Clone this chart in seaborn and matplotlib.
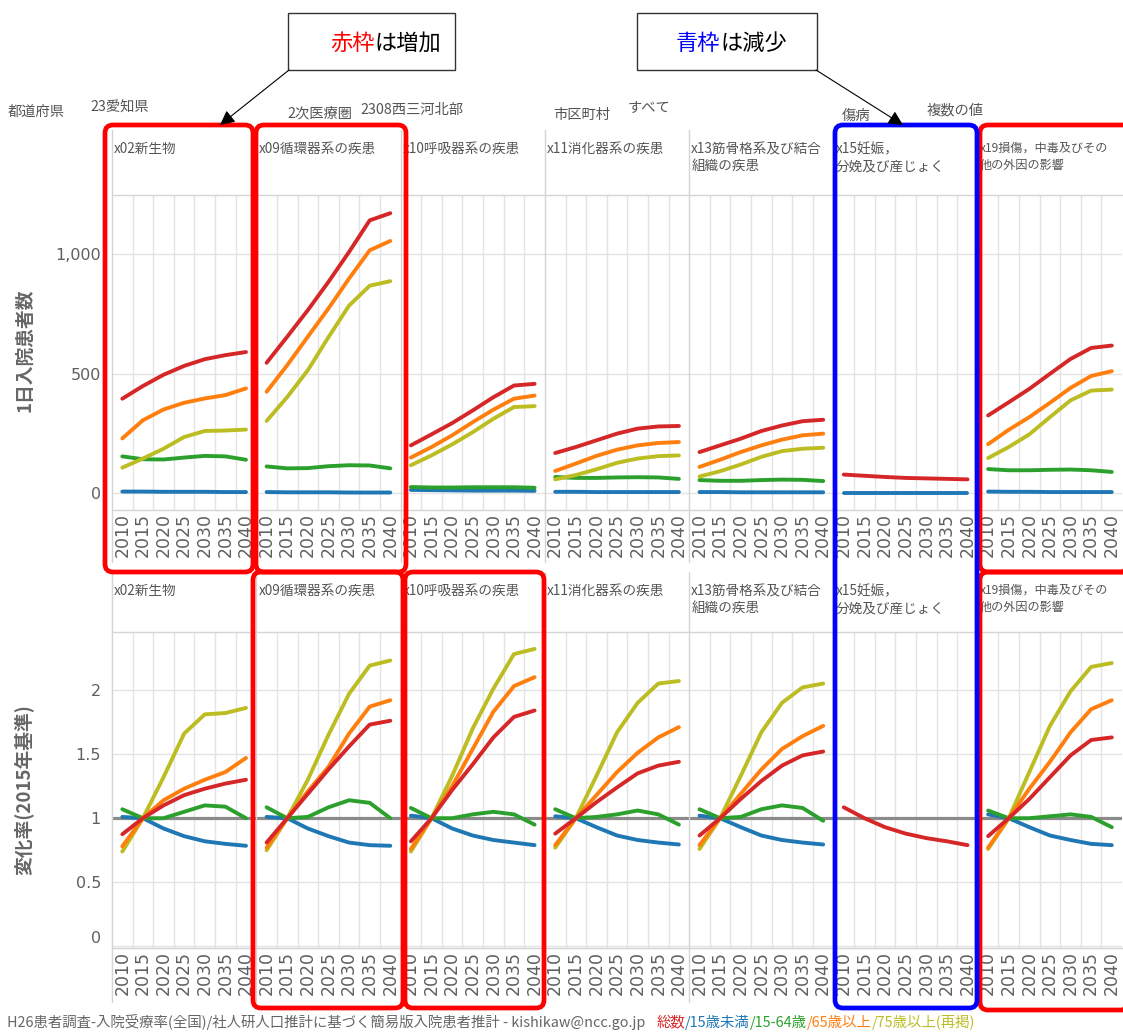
import numpy as np
import pandas as pd
import matplotlib
matplotlib.use("Agg")
import matplotlib.pyplot as plt
import seaborn as sns
from matplotlib.patches import FancyBboxPatch, Rectangle
from matplotlib.lines import Line2D

sns.set_theme(style="white")
plt.rcParams["font.family"] = ["Noto Sans CJK JP", "DejaVu Sans"]

# ---------------------------------------------------------------- data
years = [2010, 2015, 2020, 2025, 2030, 2035, 2040]
groups = ["総数", "15歳未満", "15-64歳", "65歳以上", "75歳以上(再掲)"]
group_colors = ["#d62728", "#1f77b4", "#2ca02c", "#ff7f0e", "#bcbd22"]
draw_order = ["15歳未満", "15-64歳", "75歳以上(再掲)", "65歳以上", "総数"]

disease_titles = [
    "x02新生物",
    "x09循環器系の疾患",
    "x10呼吸器系の疾患",
    "x11消化器系の疾患",
    "x13筋骨格系及び結合\n組織の疾患",
    "x15妊娠，\n分娩及び産じょく",
    "x19損傷，中毒及びその\n他の外因の影響",
]

nan = np.nan
# daily inpatients, rows in the order of `groups`
count_x02 = [[395, 448, 495, 532, 560, 577, 590],
             [7, 7, 6, 6, 6, 5, 5],
             [154, 142, 141, 149, 156, 154, 140],
             [229, 305, 350, 378, 396, 410, 438],
             [107, 145, 186, 235, 260, 262, 266]]
count_x09 = [[545, 654, 765, 883, 1008, 1140, 1170],
             [5, 4, 4, 4, 3, 3, 3],
             [112, 104, 105, 113, 117, 116, 104],
             [424, 535, 654, 772, 897, 1015, 1054],
             [302, 402, 514, 652, 784, 867, 886]]
count_x10 = [[200, 246, 293, 346, 401, 450, 457],
             [14, 13, 12, 11, 11, 11, 10],
             [26, 24, 24, 25, 25, 25, 23],
             [149, 193, 242, 297, 349, 395, 408],
             [117, 158, 204, 255, 311, 360, 364]]
count_x11 = [[168, 193, 221, 249, 270, 279, 281],
             [6, 6, 5, 5, 5, 5, 5],
             [68, 64, 64, 66, 67, 66, 60],
             [93, 124, 156, 182, 200, 210, 214],
             [58, 76, 100, 127, 145, 155, 158]]
count_x13 = [[172, 200, 228, 260, 283, 301, 307],
             [5, 5, 4, 4, 4, 4, 4],
             [55, 52, 52, 55, 57, 56, 51],
             [110, 140, 172, 200, 224, 242, 249],
             [70, 92, 120, 152, 176, 186, 190]]
count_x15 = [[78, 73, 68, 64, 62, 60, 58],
             [0, 0, 0, 0, 0, 0, 0],
             [nan] * 7,
             [nan] * 7,
             [nan] * 7]
count_x19 = [[325, 380, 436, 499, 561, 607, 617],
             [7, 6, 6, 5, 5, 5, 5],
             [101, 96, 96, 98, 99, 96, 89],
             [205, 265, 318, 378, 440, 490, 510],
             [147, 193, 246, 318, 388, 429, 433]]

# change ratio against 2015
ratio_x02 = [[0.875, 1, 1.10, 1.18, 1.23, 1.27, 1.30],
             [1.01, 1, 0.92, 0.86, 0.82, 0.80, 0.785],
             [1.07, 1, 1.00, 1.05, 1.10, 1.09, 1.00],
             [0.78, 1, 1.14, 1.23, 1.30, 1.36, 1.47],
             [0.74, 1, 1.32, 1.66, 1.81, 1.82, 1.86]]
ratio_x09 = [[0.81, 1, 1.19, 1.38, 1.56, 1.73, 1.76],
             [1.01, 1, 0.92, 0.86, 0.81, 0.79, 0.785],
             [1.085, 1, 1.01, 1.085, 1.14, 1.12, 1.00],
             [0.77, 1, 1.21, 1.40, 1.66, 1.87, 1.92],
             [0.75, 1, 1.30, 1.65, 1.97, 2.19, 2.23]]
ratio_x10 = [[0.82, 1, 1.22, 1.42, 1.63, 1.79, 1.84],
             [1.02, 1, 0.92, 0.865, 0.83, 0.81, 0.79],
             [1.08, 1, 1.00, 1.03, 1.05, 1.03, 0.95],
             [0.76, 1, 1.25, 1.54, 1.83, 2.03, 2.10],
             [0.74, 1, 1.33, 1.70, 2.01, 2.28, 2.32]]
ratio_x11 = [[0.88, 1, 1.125, 1.24, 1.35, 1.41, 1.44],
             [1.015, 1, 0.93, 0.865, 0.83, 0.81, 0.795],
             [1.07, 1, 1.01, 1.03, 1.06, 1.03, 0.95],
             [0.79, 1, 1.18, 1.36, 1.51, 1.63, 1.71],
             [0.77, 1, 1.33, 1.67, 1.90, 2.05, 2.07]]
ratio_x13 = [[0.865, 1, 1.15, 1.29, 1.41, 1.49, 1.52],
             [1.02, 1, 0.93, 0.865, 0.83, 0.81, 0.795],
             [1.07, 1, 1.01, 1.07, 1.10, 1.08, 0.98],
             [0.79, 1, 1.19, 1.38, 1.54, 1.64, 1.72],
             [0.76, 1, 1.33, 1.67, 1.90, 2.02, 2.05]]
ratio_x15 = [[1.085, 1, 0.93, 0.88, 0.845, 0.82, 0.79],
             [nan] * 7,
             [nan] * 7,
             [nan] * 7,
             [nan] * 7]
ratio_x19 = [[0.86, 1, 1.15, 1.32, 1.49, 1.61, 1.63],
             [1.03, 1, 0.93, 0.865, 0.83, 0.80, 0.79],
             [1.06, 1, 1.00, 1.015, 1.03, 1.01, 0.93],
             [0.77, 1, 1.23, 1.44, 1.67, 1.85, 1.92],
             [0.76, 1, 1.36, 1.72, 1.99, 2.18, 2.21]]

counts = [count_x02, count_x09, count_x10, count_x11, count_x13, count_x15, count_x19]
ratios = [ratio_x02, ratio_x09, ratio_x10, ratio_x11, ratio_x13, ratio_x15, ratio_x19]

filter_items = [("都道府県", "23愛知県"), ("2次医療圏", "2308西三河北部"),
                ("市区町村", "すべて"), ("傷病", "複数の値")]

source_note = "H26患者調査-入院受療率(全国)/社人研人口推計に基づく簡易版入院患者推計 - kishikaw@ncc.go.jp"
legend_parts = ["総数", "/15歳未満", "/15-64歳", "/65歳以上", "/75歳以上(再掲)"]


def long_frame(block):
    rows = []
    for g, vals in zip(groups, block):
        for y, v in zip(years, vals):
            rows.append({"year": y, "group": g, "value": v})
    return pd.DataFrame(rows).dropna()


# ---------------------------------------------------------------- layout
W, H = 1123, 1035
fig = plt.figure(figsize=(W / 100, H / 100), dpi=100)
fig.patch.set_facecolor("white")


def fx(x):
    return x / W


def fy(y):
    return 1 - y / H


palette = dict(zip(groups, group_colors))
col_w = 144.3
col_left = [112 + col_w * i for i in range(7)]
GRID = "#e4e4e4"
SEP = "#d4d4d4"
TXT = "#555555"
title_sizes = [9.8, 9.8, 9.8, 9.8, 9.8, 9.8, 8.7]

row_specs = [
    dict(head_top=130, plot_top=195, plot_bot=510, lab_bot=562, blocks=counts,
         ylim=(-70, 1246), yticks=[0, 500, 1000], ylabels=["0", "500", "1,000"]),
    dict(head_top=572, plot_top=632, plot_bot=948, lab_bot=1002, blocks=ratios,
         ylim=(-0.012, 2.452), yticks=[0, 0.5, 1, 1.5, 2], ylabels=["0", "0.5", "1", "1.5", "2"]),
]

for r, spec in enumerate(row_specs):
    for c in range(7):
        ax = fig.add_axes([fx(col_left[c]), fy(spec["plot_bot"]),
                           col_w / W, (spec["plot_bot"] - spec["plot_top"]) / H])
        ax.set_facecolor("white")
        if r == 1:
            ax.axhline(1, color="#8a8a8a", lw=2.3, zorder=1.5)
        sns.lineplot(data=long_frame(spec["blocks"][c]), x="year", y="value",
                     hue="group", hue_order=draw_order, palette=palette,
                     linewidth=2.8, legend=False, errorbar=None, ax=ax, zorder=3)
        ax.set_xlim(2007.5, 2042.5)
        ax.set_ylim(*spec["ylim"])
        ax.set_xticks(years)
        ax.set_xticklabels([str(y) for y in years], rotation=90,
                           fontsize=12.5, color="#5f5f5f", family="DejaVu Sans")
        ax.set_xticks([y + 2.5 for y in years[:-1]], minor=True)
        ax.set_yticks(spec["yticks"])
        if c == 0:
            ax.set_yticklabels(spec["ylabels"], fontsize=11.5, color="#5f5f5f",
                               family="DejaVu Sans")
            if r == 1:
                ax.get_yticklabels()[0].set_va("bottom")
        else:
            ax.set_yticklabels([])
        ax.tick_params(axis="both", which="both", length=0)
        ax.tick_params(axis="x", pad=2)
        ax.tick_params(axis="y", pad=8)
        ax.grid(False)
        ax.grid(True, axis="x", which="minor", color=GRID, lw=1)
        ax.grid(True, axis="y", which="major", color=GRID, lw=1)
        for s in ax.spines.values():
            s.set_visible(False)
        ax.set_xlabel("")
        ax.set_ylabel("")
        # panel header title
        fig.text(fx(col_left[c] + 2), fy(spec["head_top"] + 12), disease_titles[c],
                 ha="left", va="top", fontsize=title_sizes[c], color=TXT, linespacing=1.35)

fig.text(fx(25), fy(350), "1日入院患者数", rotation=90, ha="center", va="center",
         fontsize=13.5, fontweight="bold", color="#666666")
fig.text(fx(25), fy(790), "変化率(2015年基準)", rotation=90, ha="center", va="center",
         fontsize=13.5, fontweight="bold", color="#666666")

# ---------------------------------------------------------------- overlay
ov = fig.add_axes([0, 0, 1, 1], zorder=10)
ov.set_xlim(0, W)
ov.set_ylim(H, 0)
ov.axis("off")

for spec in row_specs:
    for x in col_left:
        ov.add_line(Line2D([x, x], [spec["head_top"], spec["lab_bot"]], color=SEP, lw=1, zorder=1))
    for yy in (spec["plot_top"], spec["plot_bot"]):
        ov.add_line(Line2D([col_left[0], W], [yy, yy], color=SEP, lw=1, zorder=1))

# filter captions
filter_pos = [((8, 112), (90, 108)), ((287, 113), (360, 110)),
              ((553, 115), (628, 108)), ((842, 116), (927, 110))]
for (lab, val), ((x1, y1), (x2, y2)) in zip(filter_items, filter_pos):
    ov.text(x1, y1, lab, ha="left", va="center", fontsize=10.3, color=TXT)
    ov.text(x2, y2, val, ha="left", va="center", fontsize=10.3, color=TXT)

# highlight frames
red_frames = [(105, 125, 253, 572), (256, 125, 406, 572), (980, 125, 1132, 572),
              (253, 572, 403, 1008), (405, 572, 544, 1008), (980, 572, 1132, 1010)]
blue_frames = [(835, 125, 977, 1008)]
for frames, col in ((red_frames, "#ff0000"), (blue_frames, "#0000ff")):
    for x0, y0, x1, y1 in frames:
        ov.add_patch(FancyBboxPatch((x0, y0), x1 - x0, y1 - y0,
                                    boxstyle="round,pad=0,rounding_size=8",
                                    fc="none", ec=col, lw=3.4, zorder=5))

# callout boxes
callouts = [((288, 13, 455, 70), 330, "赤枠", "#ff0000", "は増加", (289, 70), (220, 125)),
            ((637, 13, 817, 70), 676, "青枠", "#0000ff", "は減少", (816, 70), (903, 125))]
fig.canvas.draw()
renderer = fig.canvas.get_renderer()
for (x0, y0, x1, y1), tx, w1, c1, w2, start, tip in callouts:
    ov.add_patch(Rectangle((x0, y0), x1 - x0, y1 - y0, fc="white", ec="#333333", lw=1.0, zorder=6))
    t1 = ov.text(tx, 43, w1, ha="left", va="center", fontsize=16, color=c1, zorder=7)
    bb = t1.get_window_extent(renderer)
    ov.text(tx + bb.width, 43, w2, ha="left", va="center", fontsize=16, color="black", zorder=7)
    ov.annotate("", xy=tip, xytext=start,
                arrowprops=dict(arrowstyle="-|>", color="black", lw=0.8,
                                mutation_scale=22, shrinkA=0, shrinkB=0), zorder=7)

# source note and colour key
t = ov.text(7, 1022, source_note, ha="left", va="center", fontsize=10.4, color="#666666")
xpos = 7 + t.get_window_extent(renderer).width + 11
for part, col in zip(legend_parts, group_colors):
    tt = ov.text(xpos, 1022, part, ha="left", va="center", fontsize=10.4, color=col)
    xpos += tt.get_window_extent(renderer).width

fig.savefig("out.png", dpi=100, facecolor="white")
